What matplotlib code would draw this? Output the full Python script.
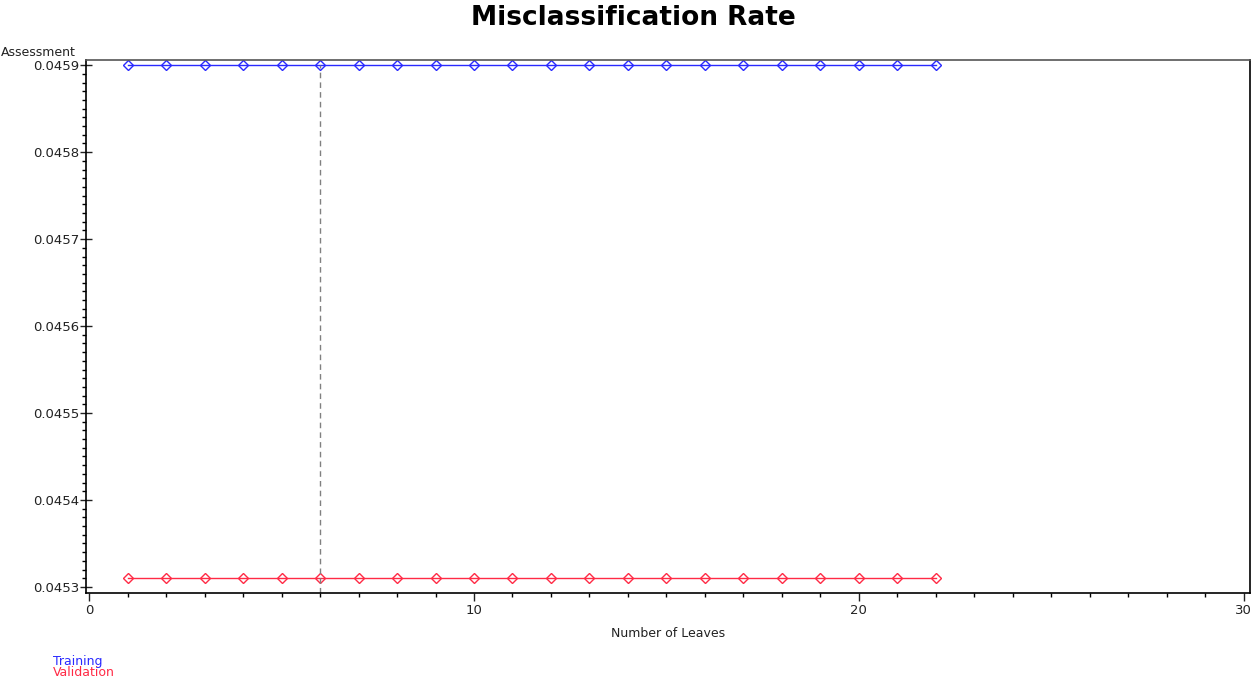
import matplotlib.pyplot as plt
from matplotlib.ticker import MultipleLocator, AutoMinorLocator

leaves = list(range(1, 23))
training = [0.04590] * 22
validation = [0.04531] * 22
selected_leaves = 6
series_names = ["Training", "Validation"]

plt.rcParams['font.family'] = ['DejaVu Sans']

fig = plt.figure(figsize=(12.56, 6.82), dpi=100)
ax = fig.add_axes([86 / 1256, 1 - 593 / 682, 1164 / 1256, 533 / 682])

ax.plot(leaves, training, color="#2a2aff", lw=1, marker="D", ms=5,
        mfc="none", mec="#2a2aff", mew=1)
ax.plot(leaves, validation, color="#ff2a45", lw=1, marker="D", ms=5,
        mfc="none", mec="#ff2a45", mew=1)
ax.vlines(selected_leaves, 0.045293, training[0], colors="#808080",
          linestyles=(0, (4, 3)), lw=1)

ax.set_xlim(-0.08, 30.16)
ax.set_ylim(0.045293, 0.045906)
ax.xaxis.set_major_locator(MultipleLocator(10))
ax.xaxis.set_minor_locator(MultipleLocator(1))
ax.yaxis.set_major_locator(MultipleLocator(0.0001))
ax.yaxis.set_minor_locator(AutoMinorLocator(10))
ax.yaxis.set_major_formatter(plt.FuncFormatter(lambda v, p: "%.4f" % v))
ax.tick_params(which="major", length=6, width=1, labelsize=9.5, direction="out",
               pad=2, colors="#222222")
ax.tick_params(which="minor", length=3, width=1, direction="out")
ax.tick_params(axis="y", which="major", direction="inout", length=8, pad=1)
for s in ax.spines.values():
    s.set_linewidth(1.2)
ax.spines["top"].set_color("#555555")

ax.set_xlabel("Number of Leaves", fontsize=9, labelpad=7, color="#222222")
fig.text(633 / 1256, 1 - 18 / 682, "Misclassification Rate", ha="center",
         va="center", fontsize=19, fontweight="bold")
# reference cuts this label at the left edge; keep it whole here
fig.text(1 / 1256, 1 - 53 / 682, "Assessment", ha="left", va="center",
         fontsize=9, color="#222222")
fig.text(53 / 1256, 1 - 661 / 682, series_names[0], color="#2a2aff",
         fontsize=9, va="center")
fig.text(53 / 1256, 1 - 673 / 682, series_names[1], color="#ff2a45",
         fontsize=9, va="center")

fig.savefig("out.png", dpi=100)
